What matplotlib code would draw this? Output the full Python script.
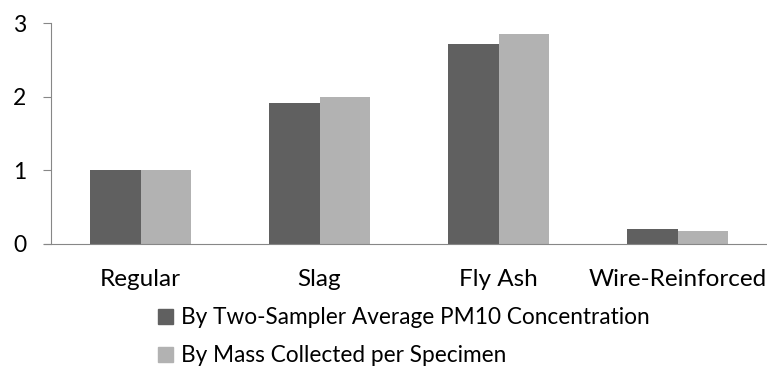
import numpy as np
import matplotlib.pyplot as plt
from matplotlib.patches import Patch

plt.rcParams['font.family'] = ['Lato', 'DejaVu Sans']

# dust emission ratios relative to regular concrete
categories = ["Regular", "Slag", "Fly Ash", "Wire-Reinforced"]
by_pm10 = [1.00, 1.91, 2.72, 0.20]
by_mass = [1.00, 1.99, 2.85, 0.17]
series_names = ["By Two-Sampler Average PM10 Concentration",
                "By Mass Collected per Specimen"]

dark = "#606060"
light = "#b2b2b2"
axis_gray = "#878787"

fig = plt.figure(figsize=(7.67, 3.73), dpi=100)
ax = fig.add_axes([51 / 767, 1 - 244 / 373, 1 - 51 / 767, (244 - 23) / 373])

x = np.arange(len(categories))
w = 0.284
ax.bar(x - w / 2, by_pm10, width=w, color=dark)
ax.bar(x + w / 2, by_mass, width=w, color=light)

ax.set_xlim(-0.5, 3.5)
ax.set_ylim(0, 3)
ax.set_yticks([0, 1, 2, 3])
ax.set_xticks(x)
ax.set_xticklabels(categories)

for s in ["top", "right"]:
    ax.spines[s].set_visible(False)
ax.spines["left"].set_color(axis_gray)
ax.spines["bottom"].set_color(axis_gray)
ax.spines["bottom"].set_bounds(-0.54, 3.5)
ax.tick_params(axis="y", length=6, color=axis_gray, pad=12, labelsize=16.5)
ax.tick_params(axis="x", length=0, pad=18, labelsize=17.5)

handles = [Patch(color=dark), Patch(color=light)]
fig.legend(handles, series_names, loc="upper left",
           bbox_to_anchor=(147 / 767, 1 - 296 / 373), frameon=False,
           fontsize=16.3, handlelength=0.66, handleheight=0.66,
           handletextpad=0.35, labelspacing=0.75, borderpad=0)

fig.savefig("out.png", dpi=100)
